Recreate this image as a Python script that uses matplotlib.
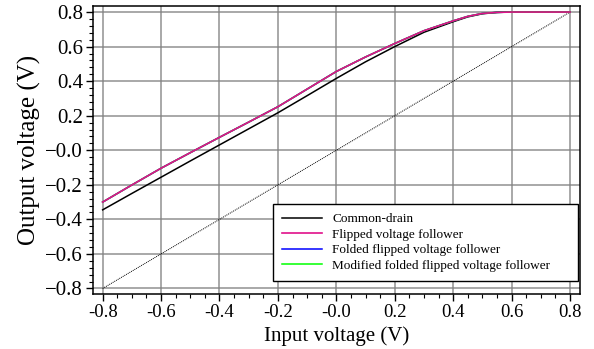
import matplotlib
matplotlib.use("Agg")
import matplotlib.pyplot as plt
from matplotlib.ticker import MultipleLocator, FuncFormatter

# ---- data ----
vin = [-0.8, -0.7, -0.6, -0.5, -0.4, -0.3, -0.2, -0.1, 0.0, 0.1, 0.2, 0.3, 0.4, 0.45, 0.5, 0.55, 0.6, 0.7, 0.8]
common_drain = [-0.345, -0.250, -0.156, -0.062, 0.031, 0.124, 0.217, 0.316, 0.416, 0.512, 0.600, 0.683, 0.744, 0.772, 0.790, 0.798, 0.800, 0.800, 0.800]
flipped = [-0.300, -0.201, -0.104, -0.014, 0.075, 0.163, 0.252, 0.354, 0.456, 0.540, 0.618, 0.692, 0.749, 0.775, 0.792, 0.798, 0.800, 0.800, 0.800]
folded_flipped = [-0.300, -0.201, -0.104, -0.014, 0.075, 0.163, 0.252, 0.354, 0.456, 0.540, 0.618, 0.692, 0.749, 0.775, 0.792, 0.798, 0.800, 0.800, 0.800]
modified_folded = [-0.300, -0.201, -0.104, -0.014, 0.075, 0.163, 0.252, 0.354, 0.456, 0.540, 0.618, 0.692, 0.749, 0.775, 0.792, 0.798, 0.800, 0.800, 0.800]
identity_x = [-0.8, 0.8]
identity_y = [-0.8, 0.8]
series_labels = ["Common-drain", "Flipped voltage follower",
                 "Folded flipped voltage follower",
                 "Modified folded flipped voltage follower"]
x_label = "Input voltage (V)"
y_label = "Output voltage (V)"

plt.rcParams['font.family'] = ['Liberation Serif', 'DejaVu Serif']

fig = plt.figure(figsize=(5.94, 3.49), dpi=100)
ax = fig.add_axes([92.7/594, 1 - 294/349, (580 - 92.7)/594, (294 - 6)/349])

ax.set_xlim(-0.834, 0.834)
ax.set_ylim(-0.832, 0.835)

ax.grid(True, which='major', color='#808080', linewidth=1.2, alpha=0.8)
ax.set_axisbelow(True)

ax.plot(identity_x, identity_y, color='black', linestyle=(0, (1, 1)), linewidth=0.7)
l1, = ax.plot(vin, common_drain, color='black', linewidth=1.1, label=series_labels[0])
l3, = ax.plot(vin, folded_flipped, color='#0000ff', linewidth=1.1, label=series_labels[2])
l4, = ax.plot(vin, modified_folded, color='#00ff00', linewidth=1.1, label=series_labels[3])
l2, = ax.plot(vin, flipped, color='#e0108a', linewidth=1.2, label=series_labels[1])

ax.xaxis.set_major_locator(MultipleLocator(0.2))
ax.xaxis.set_minor_locator(MultipleLocator(0.05))
ax.yaxis.set_major_locator(MultipleLocator(0.2))
ax.yaxis.set_minor_locator(MultipleLocator(0.04))

def fmt_x(v, pos):
    if abs(v) < 1e-9:
        return "-0.0"
    return f"{v:.1f}"

def fmt_y(v, pos):
    if abs(v) < 1e-9:
        return "\u22120.0"
    return f"{v:.1f}".replace("-", "\u2212")

ax.xaxis.set_major_formatter(FuncFormatter(fmt_x))
ax.yaxis.set_major_formatter(FuncFormatter(fmt_y))
ax.tick_params(axis='x', which='major', direction='out', length=5, width=1, labelsize=13.5, pad=2)
ax.tick_params(axis='y', which='major', direction='out', length=5, width=1, labelsize=15, pad=2)
ax.tick_params(axis='both', which='minor', direction='out', length=3, width=0.8)
for sp in ax.spines.values():
    sp.set_linewidth(1.1)

ax.set_xlabel(x_label, fontsize=15)
ax.xaxis.set_label_coords(0.5, -0.112)
ax.set_ylabel(y_label, fontsize=18)
ax.yaxis.set_label_coords(-0.107, 0.5)

leg = ax.legend(handles=[l1, l2, l3, l4], loc='lower left',
                bbox_to_anchor=(0.37, 0.045, 0.626, 0.271), mode='expand',
                borderaxespad=0.0,
                fontsize=9.5, frameon=True, fancybox=False, framealpha=1,
                edgecolor='black', handlelength=3.0, borderpad=0.7,
                labelspacing=0.25, handletextpad=0.8)
leg.get_frame().set_linewidth(1.0)

fig.savefig("out.png", dpi=100)
